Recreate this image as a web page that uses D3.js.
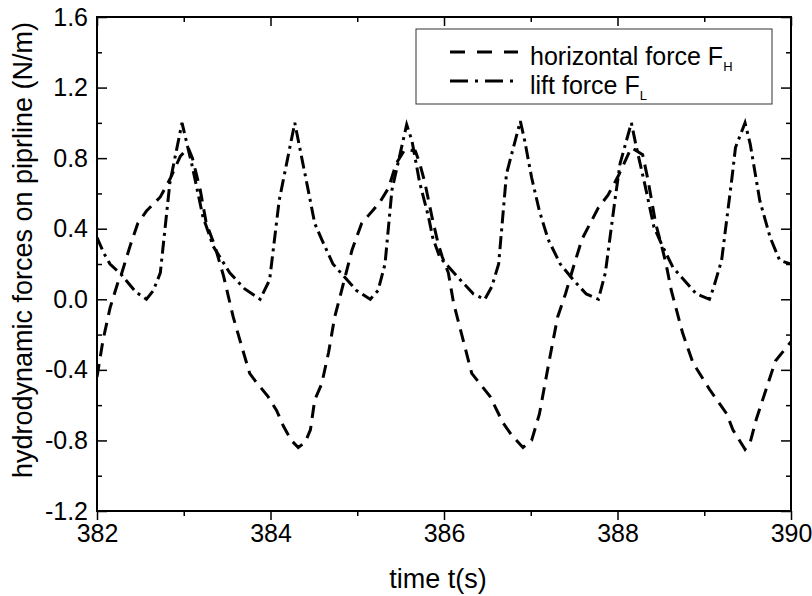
<!DOCTYPE html>
<html>
<head>
<meta charset="utf-8">
<script src="https://cdn.jsdelivr.net/npm/d3@7"></script>
<style>
  body { margin: 0; background: #fff; }
  text { font-family: "Liberation Sans", Arial, sans-serif; fill: #000; }
</style>
</head>
<body>
<div id="chart"></div>
<script>
// horizontal force F_H (dashed)
var hTime = [382.00, 382.07, 382.15, 382.25, 382.28, 382.38, 382.47, 382.57, 382.73, 382.84, 382.96, 383.05,
  383.10, 383.19, 383.26, 383.36, 383.46, 383.57, 383.67, 383.76, 383.82, 383.97, 384.07, 384.15, 384.24,
  384.32, 384.40, 384.46, 384.51, 384.59, 384.67, 384.74, 384.82, 384.94, 385.05, 385.12, 385.26, 385.36,
  385.45, 385.55, 385.67, 385.72, 385.78, 385.86, 385.93, 385.98, 386.05, 386.11, 386.22, 386.32, 386.53,
  386.68, 386.78, 386.91, 387.01, 387.10, 387.22, 387.31, 387.40, 387.49, 387.59, 387.78, 387.89, 388.01,
  388.16, 388.29, 388.35, 388.44, 388.51, 388.56, 388.62, 388.75, 388.87, 389.06, 389.26, 389.33, 389.47,
  389.53, 389.60, 389.72, 389.82, 390.00];
var hForce = [-0.44, -0.23, -0.05, 0.11, 0.14, 0.30, 0.43, 0.50, 0.58, 0.68, 0.81, 0.86,
  0.80, 0.62, 0.43, 0.30, 0.13, -0.10, -0.27, -0.42, -0.46, -0.55, -0.63, -0.72, -0.80,
  -0.84, -0.81, -0.74, -0.57, -0.48, -0.30, -0.10, 0.05, 0.28, 0.43, 0.47, 0.55, 0.63,
  0.77, 0.85, 0.84, 0.77, 0.66, 0.47, 0.32, 0.24, 0.15, -0.02, -0.23, -0.42, -0.55,
  -0.70, -0.77, -0.84, -0.80, -0.65, -0.33, -0.10, 0.03, 0.18, 0.34, 0.52, 0.59, 0.70,
  0.86, 0.82, 0.68, 0.43, 0.30, 0.20, 0.05, -0.19, -0.36, -0.51, -0.65, -0.74, -0.85,
  -0.81, -0.68, -0.50, -0.35, -0.24];

// lift force F_L (dash-dot)
var lTime = [382.00, 382.08, 382.15, 382.28, 382.45, 382.57, 382.65, 382.73, 382.84, 382.98, 383.10, 383.22,
  383.34, 383.53, 383.70, 383.88, 383.99, 384.10, 384.28, 384.43, 384.51, 384.59, 384.72, 384.99, 385.15,
  385.24, 385.32, 385.40, 385.57, 385.63, 385.72, 385.82, 385.87, 385.95, 386.15, 386.34, 386.47, 386.55,
  386.63, 386.72, 386.88, 386.93, 387.01, 387.10, 387.20, 387.34, 387.49, 387.64, 387.78, 387.86, 387.97,
  388.03, 388.16, 388.21, 388.32, 388.42, 388.52, 388.64, 388.91, 389.06, 389.11, 389.20, 389.32, 389.36,
  389.47, 389.53, 389.64, 389.76, 389.87, 390.00];
var lForce = [0.35, 0.26, 0.20, 0.14, 0.04, 0.00, 0.05, 0.15, 0.66, 1.00, 0.75, 0.47,
  0.30, 0.15, 0.06, 0.00, 0.11, 0.56, 1.00, 0.63, 0.43, 0.34, 0.20, 0.05, 0.00,
  0.05, 0.20, 0.62, 0.99, 0.90, 0.66, 0.47, 0.35, 0.24, 0.13, 0.03, 0.00, 0.07,
  0.20, 0.71, 1.01, 0.90, 0.69, 0.50, 0.34, 0.20, 0.11, 0.03, 0.00, 0.15, 0.56,
  0.77, 1.00, 0.88, 0.64, 0.41, 0.30, 0.18, 0.03, 0.00, 0.07, 0.22, 0.69, 0.86,
  1.00, 0.88, 0.56, 0.35, 0.22, 0.20];

var xTicks = [382, 384, 386, 388, 390];
var xMinor = [383, 385, 387, 389];
var yTicks = [-1.2, -0.8, -0.4, 0.0, 0.4, 0.8, 1.2, 1.6];
var yMinor = [-1.0, -0.6, -0.2, 0.2, 0.6, 1.0, 1.4];

var svgWidth = 812;
var svgHeight = 596;
var margin = { top: 17, right: 21, bottom: 85, left: 97 };
var chartWidth = svgWidth - margin.left - margin.right;
var chartHeight = svgHeight - margin.top - margin.bottom;

var svg = d3.select("#chart").append("svg")
  .attr("width", svgWidth)
  .attr("height", svgHeight);

var chartGroup = svg.append("g")
  .attr("transform", `translate(${margin.left}, ${margin.top})`);

var x = d3.scaleLinear().domain([382, 390]).range([0, chartWidth]);
var y = d3.scaleLinear().domain([-1.2, 1.6]).range([chartHeight, 0]);

chartGroup.append("clipPath").attr("id", "clip")
  .append("rect").attr("width", chartWidth).attr("height", chartHeight);

var line = d3.line()
  .x(d => x(d[0]))
  .y(d => y(d[1]));

var hData = hTime.map((t, i) => [t, hForce[i]]);
var lData = lTime.map((t, i) => [t, lForce[i]]);

chartGroup.append("path")
  .datum(hData)
  .attr("clip-path", "url(#clip)")
  .attr("fill", "none")
  .attr("stroke", "#000")
  .attr("stroke-width", 3)
  .attr("stroke-dasharray", "13,8")
  .attr("d", line);

chartGroup.append("path")
  .datum(lData)
  .attr("clip-path", "url(#clip)")
  .attr("fill", "none")
  .attr("stroke", "#000")
  .attr("stroke-width", 3)
  .attr("stroke-dasharray", "13,5,3,5")
  .attr("d", line);

// axes
function styleAxis(g) {
  g.select(".domain").remove();
  g.selectAll(".tick line").attr("stroke", "#000").attr("stroke-width", 1.5);
  g.selectAll(".tick text").style("font-size", "25px");
}

// plain hyphen for negatives, like the original
var yFormat = d => d3.format(".1f")(d).replace("\u2212", "-");

chartGroup.append("g")
  .attr("transform", `translate(0, ${chartHeight})`)
  .call(d3.axisBottom(x).tickValues(xTicks).tickSize(9).tickPadding(4).tickFormat(d3.format("d")))
  .call(styleAxis);
chartGroup.append("g")
  .attr("transform", `translate(0, ${chartHeight})`)
  .call(d3.axisBottom(x).tickValues(xMinor).tickSize(5).tickFormat(""))
  .call(styleAxis);

chartGroup.append("g")
  .call(d3.axisTop(x).tickValues(xTicks).tickSize(-9).tickFormat(""))
  .call(styleAxis);
chartGroup.append("g")
  .call(d3.axisTop(x).tickValues(xMinor).tickSize(-5).tickFormat(""))
  .call(styleAxis);

chartGroup.append("g")
  .call(d3.axisLeft(y).tickValues(yTicks).tickSize(-10).tickPadding(9).tickFormat(yFormat))
  .call(styleAxis);
chartGroup.append("g")
  .call(d3.axisLeft(y).tickValues(yMinor).tickSize(-5).tickFormat(""))
  .call(styleAxis);

chartGroup.append("g")
  .attr("transform", `translate(${chartWidth}, 0)`)
  .call(d3.axisRight(y).tickValues(yTicks).tickSize(-10).tickFormat(""))
  .call(styleAxis);
chartGroup.append("g")
  .attr("transform", `translate(${chartWidth}, 0)`)
  .call(d3.axisRight(y).tickValues(yMinor).tickSize(-5).tickFormat(""))
  .call(styleAxis);

chartGroup.append("rect")
  .attr("width", chartWidth)
  .attr("height", chartHeight)
  .attr("fill", "none")
  .attr("stroke", "#000")
  .attr("stroke-width", 2);

// axis titles
svg.append("text")
  .attr("x", 438)
  .attr("y", 588)
  .attr("text-anchor", "middle")
  .style("font-size", "27px")
  .text("time t(s)");

svg.append("text")
  .attr("transform", "translate(32, 250) rotate(-90)")
  .attr("text-anchor", "middle")
  .style("font-size", "27px")
  .text("hydrodynamic forces on piprline (N/m)");

// legend
var legend = svg.append("g");
legend.append("rect")
  .attr("x", 416).attr("y", 29)
  .attr("width", 356).attr("height", 75)
  .attr("fill", "#fff")
  .attr("stroke", "#333")
  .attr("stroke-width", 1);

var legendItems = [
  { label: "horizontal force F", sub: "H", dash: "15,12", yy: 52 },
  { label: "lift force F", sub: "L", dash: "18,7,3,7", yy: 81 }
];

legendItems.forEach(function (item) {
  legend.append("line")
    .attr("x1", 450).attr("x2", 518)
    .attr("y1", item.yy).attr("y2", item.yy)
    .attr("stroke", "#000")
    .attr("stroke-width", 3)
    .attr("stroke-dasharray", item.dash);
  var t = legend.append("text")
    .attr("x", 530)
    .attr("y", item.yy + 13)
    .style("font-size", "25px")
    .text(item.label);
  t.append("tspan")
    .attr("dy", 6)
    .style("font-size", "13px")
    .text(item.sub);
});
</script>
</body>
</html>
